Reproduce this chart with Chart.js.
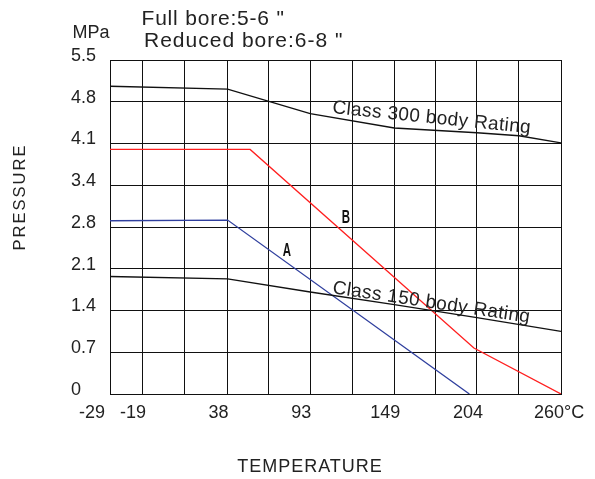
<!DOCTYPE html>
<html>
<head>
<meta charset="utf-8">
<title>Pressure - temperature rating</title>
<script src="https://cdn.jsdelivr.net/npm/chart.js@4.4.1/dist/chart.umd.min.js"></script>
<style>
  html, body { margin: 0; padding: 0; background: #fff; }
  #chart { display: block; }
</style>
</head>
<body>
<canvas id="chart" width="595" height="479"></canvas>
<script>
"use strict";

// ~ Data (temperature in °C, pressure in MPa)
const class300Temps = [-29, 38, 93, 149, 204, 232, 260];
const class300Mpa = [5.06, 5.01, 4.6, 4.36, 4.28, 4.23, 4.11];
const class150Temps = [-29, 38, 93, 149, 204, 260];
const class150Mpa = [1.97, 1.93, 1.71, 1.5, 1.28, 1.05];
const seatATemps = [-29, 38, 199];
const seatAMpa = [2.89, 2.9, 0];
const seatBTemps = [-29, 53, 202, 260];
const seatBMpa = [4.0, 4.0, 0.77, 0];

// tick labels as printed on the sheet
const xTickTemps = [-29, -19, 9.5, 38, 65.5, 93, 121, 149, 176.5, 204, 232, 260];
const xTickLabels = ["-29", "-19", "", "38", "", "93", "", "149", "", "204", "", "260°C"];
const yTickMpa = [0, 0.7, 1.4, 2.1, 2.8, 3.4, 4.1, 4.8, 5.5];
const yTickLabels = ["0", "0.7", "1.4", "2.1", "2.8", "3.4", "4.1", "4.8", "5.5"];

// the sheet's axes are not quite linear: the -29 column is stretched and
// the printed MPa rows are evenly spaced although 2.8 -> 3.4 is only 0.6
const X_EDGE = -40.31;
const yGridPos = yTickMpa.map((v, i) => i * 0.7);

function interp(v, from, to) {
  for (let i = 0; i < from.length - 1; i++) {
    if (v <= from[i + 1] || i === from.length - 2) {
      const f = (v - from[i]) / (from[i + 1] - from[i]);
      return to[i] + f * (to[i + 1] - to[i]);
    }
  }
  return v;
}
const xPos = (t) => interp(t, [-29, -19, 260], [X_EDGE, -19, 260]);
const yPos = (m) => interp(m, yTickMpa, yGridPos);

function toPoints(temps, mpa) {
  return temps.map((t, i) => ({ x: xPos(t), y: yPos(mpa[i]) }));
}

const FONT = "'Liberation Sans', Arial, sans-serif";
const TEXT = "#222";

function drawText(ctx, str, x, y, font, opts = {}) {
  ctx.save();
  ctx.font = font;
  ctx.fillStyle = opts.color || TEXT;
  ctx.textAlign = opts.align || "left";
  ctx.textBaseline = "alphabetic";
  ctx.letterSpacing = opts.spacing || "0px";
  ctx.translate(x, y);
  if (opts.angle) ctx.rotate((opts.angle * Math.PI) / 180);
  if (opts.squeeze) ctx.scale(opts.squeeze, 1);
  ctx.fillText(str, 0, 0);
  ctx.restore();
}

// ! labels, titles and x tick texts
const sheetText = {
  id: "sheetText",
  afterDraw(chart) {
    const { ctx, scales: { x, y } } = chart;
    const px = (t) => x.getPixelForValue(xPos(t));
    const py = (m) => y.getPixelForValue(yPos(m));

    // x tick labels (printed a little left of their grid line)
    xTickLabels.forEach((lbl, i) => {
      if (!lbl) return;
      const p = px(xTickTemps[i]);
      if (i === 0) drawText(ctx, lbl, p - 5, 418, "18px " + FONT, { align: "right" });
      else if (i === xTickLabels.length - 1) drawText(ctx, lbl, p - 27, 418, "18px " + FONT);
      else drawText(ctx, lbl, p - 9, 418, "18px " + FONT, { align: "center" });
    });

    drawText(ctx, "MPa", 72.5, 38, "18px " + FONT);
    drawText(ctx, "Full bore:5-6 \"", 141.5, 25, "21px " + FONT, { spacing: "0.8px" });
    drawText(ctx, "Reduced bore:6-8 \"", 144, 46.5, "21px " + FONT, { spacing: "1px" });
    drawText(ctx, "PRESSURE", 25, 197, "16.5px " + FONT, { align: "center", angle: -90, spacing: "2px" });
    drawText(ctx, "TEMPERATURE", 310, 471.5, "18px " + FONT, { align: "center", spacing: "1px" });

    drawText(ctx, "Class 300 body Rating", px(107.5), py(4.61), "19px " + FONT, { angle: 5.8, spacing: "0.4px" });
    drawText(ctx, "Class 150 body Rating", px(107.5), py(1.69), "19px " + FONT, { angle: 8.5, spacing: "0.4px" });

    const letterFont = "bold 18.5px " + FONT;
    drawText(ctx, "B", px(116.8), py(2.86), letterFont, { align: "center", color: "#111", squeeze: 0.62 });
    drawText(ctx, "A", px(77.5), py(2.31), letterFont, { align: "center", color: "#111", squeeze: 0.62 });
  },
};

const ctx = document.getElementById("chart").getContext("2d");

new Chart(ctx, {
  type: "line",
  data: {
    datasets: [
      { label: "Class 300", data: toPoints(class300Temps, class300Mpa), borderColor: "#111" },
      { label: "Class 150", data: toPoints(class150Temps, class150Mpa), borderColor: "#111" },
      { label: "A", data: toPoints(seatATemps, seatAMpa), borderColor: "#2f3f9e" },
      { label: "B", data: toPoints(seatBTemps, seatBMpa), borderColor: "#ff1f1f" },
    ],
  },
  options: {
    responsive: false,
    animation: false,
    parsing: false,
    elements: {
      line: { borderWidth: 1.3, tension: 0, fill: false },
      point: { radius: 0 },
    },
    layout: { padding: { top: 60, right: 34, bottom: 0, left: 71 } },
    plugins: {
      legend: { display: false },
      tooltip: { enabled: false },
    },
    scales: {
      x: {
        type: "linear",
        min: xPos(-29),
        max: 260,
        afterBuildTicks: (scale) => {
          scale.ticks = xTickTemps.map((t) => ({ value: xPos(t) }));
        },
        afterFit: (scale) => {
          scale.height = 85;
        },
        ticks: { display: false },
        grid: { color: "#111", lineWidth: 1, drawTicks: false },
        border: { color: "#111", width: 1 },
      },
      y: {
        type: "linear",
        min: 0,
        max: yGridPos[yGridPos.length - 1],
        afterBuildTicks: (scale) => {
          scale.ticks = yGridPos.map((v) => ({ value: v }));
        },
        afterFit: (scale) => {
          scale.width = 39;
        },
        ticks: {
          crossAlign: "far",
          labelOffset: -4,
          padding: 0,
          color: TEXT,
          font: { family: FONT, size: 18 },
          callback: (value, index) => yTickLabels[index],
        },
        grid: { color: "#111", lineWidth: 1, drawTicks: false },
        border: { color: "#111", width: 1 },
      },
    },
  },
  plugins: [sheetText],
});
</script>
</body>
</html>
